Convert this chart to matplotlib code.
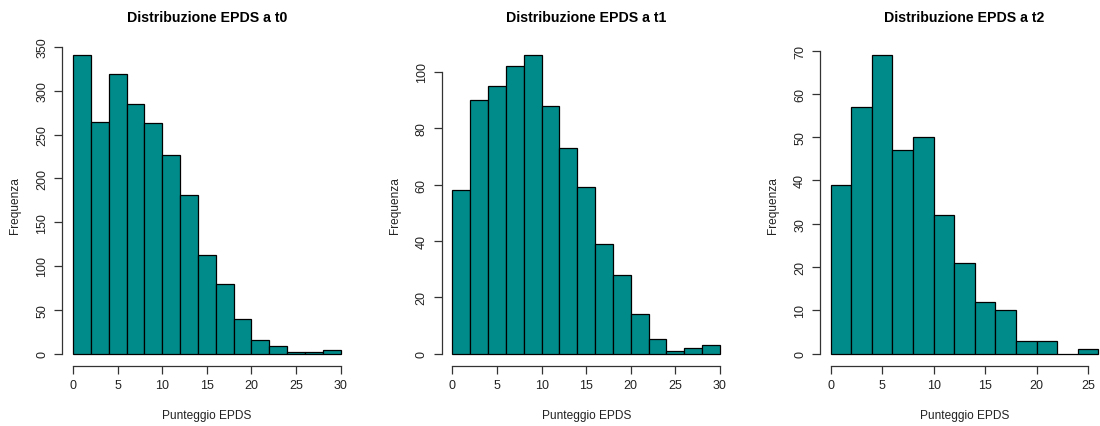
import numpy as np
import matplotlib
matplotlib.use("Agg")
import matplotlib.pyplot as plt

plt.rcParams['font.family'] = ['Liberation Sans', 'DejaVu Sans']

# conteggi per classi di ampiezza 2
edges_t0 = np.arange(0, 32, 2)
counts_t0 = [341, 264, 319, 285, 263, 227, 181, 113, 79, 39, 16, 9, 2, 2, 4]
edges_t1 = np.arange(0, 32, 2)
counts_t1 = [58, 90, 95, 102, 106, 88, 73, 59, 39, 28, 14, 5, 1, 2, 3]
edges_t2 = np.arange(0, 28, 2)
counts_t2 = [39, 57, 69, 47, 50, 32, 21, 12, 10, 3, 3, 0, 1]

titles = ['Distribuzione EPDS a t0', 'Distribuzione EPDS a t1', 'Distribuzione EPDS a t2']
xticks_all = [np.arange(0, 35, 5), np.arange(0, 35, 5), np.arange(0, 30, 5)]
yticks_all = [np.arange(0, 400, 50), np.arange(0, 120, 20), np.arange(0, 80, 10)]

W, H = 1100, 427
fig = plt.figure(figsize=(W / 100, H / 100), dpi=100)

lefts = [62.3, 441.7, 820.0]
ax_w = 289.0
top_px, bot_px = 44.0, 366.5

data = [(edges_t0, counts_t0), (edges_t1, counts_t1), (edges_t2, counts_t2)]
for i, (edges, counts) in enumerate(data):
    ax = fig.add_axes([lefts[i] / W, (H - bot_px) / H, ax_w / W, (bot_px - top_px) / H])
    ax.bar(edges[:-1], counts, width=2, align='edge', color='#008B8B',
           edgecolor='black', linewidth=0.9)
    # stile R: espansione del 4%
    xr = edges[-1] - edges[0]
    ymax = max(counts)
    ax.set_xlim(edges[0] - 0.04 * xr, edges[-1] + 0.04 * xr)
    ax.set_ylim(-0.04 * ymax, 1.04 * ymax)

    xt = xticks_all[i]
    yt = yticks_all[i]
    ax.set_xticks(xt)
    ax.set_yticks(yt)
    ax.set_yticklabels([str(v) for v in yt], rotation=90, va='center')
    for s in ['top', 'right']:
        ax.spines[s].set_visible(False)
    ax.spines['left'].set_bounds(yt[0], yt[-1])
    ax.spines['bottom'].set_bounds(xt[0], xt[-1])
    for s in ['left', 'bottom']:
        ax.spines[s].set_color('#333333')
        ax.spines[s].set_linewidth(0.9)
    ax.tick_params(axis='both', length=6, width=0.9, color='#333333',
                   labelsize=9, labelcolor='#222222', pad=4)

    ax.set_title(titles[i], fontsize=10.2, fontweight='bold', pad=16)
    ax.set_xlabel('Punteggio EPDS', fontsize=8.6, color='#222222', labelpad=13)
    ax.set_ylabel('Frequenza', fontsize=8.6, color='#222222', labelpad=11)

fig.savefig('out.png', dpi=100)
